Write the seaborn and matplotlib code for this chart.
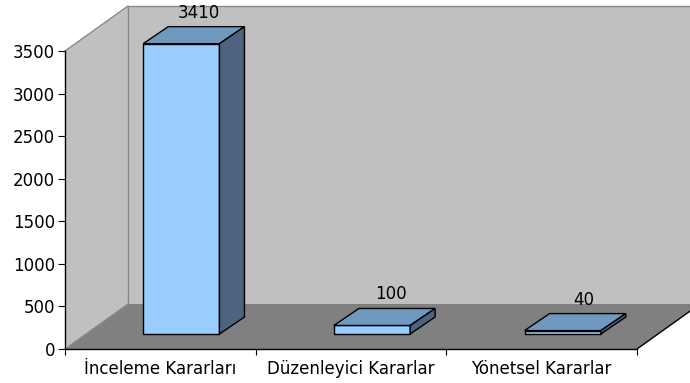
import matplotlib
matplotlib.use("Agg")
import matplotlib.pyplot as plt
from matplotlib.patches import Polygon
from matplotlib.lines import Line2D
import seaborn as sns
import pandas as pd

# Data
categories = ["İnceleme Kararları", "Düzenleyici Kararlar", "Yönetsel Kararlar"]
values = [3410, 100, 40]
y_ticks = [0, 500, 1000, 1500, 2000, 2500, 3000, 3500]

sns.set_style("white")
plt.rcParams["font.family"] = ["DejaVu Sans"]
plt.rcParams["text.color"] = "black"
plt.rcParams["xtick.color"] = "black"
plt.rcParams["ytick.color"] = "black"
plt.rcParams["xtick.labelcolor"] = "black"
plt.rcParams["ytick.labelcolor"] = "black"

FRONT = "#99CCFF"
TOP = "#7099C0"
SIDE = "#4D6380"
WALL = "#C0C0C0"
FLOOR = "#808080"
WALL_EDGE = "#8A8A8A"

W, H = 690, 383
fig = plt.figure(figsize=(W / 100, H / 100), dpi=100, facecolor="white")
# Front plane of the 3D box, in pixels
left_px, right_px, base_px, top_px = 65, 637, 349, 51
ax = fig.add_axes([left_px / W, (H - base_px) / H,
                   (right_px - left_px) / W, (base_px - top_px) / H])
ax.patch.set_visible(False)

df = pd.DataFrame({"cat": categories, "val": values})
sns.barplot(data=df, x="cat", y="val", ax=ax, width=0.4, color=FRONT,
            saturation=1, edgecolor="black", linewidth=1.0, zorder=3)
bars = list(ax.patches)

ax.set_xlim(-0.5, len(categories) - 0.5)
ax.set_ylim(0, y_ticks[-1])
ax.set_xlabel("")
ax.set_ylabel("")


def px_to_data(dx, dy):
    inv = ax.transData.inverted()
    p0 = inv.transform((0, 0))
    p1 = inv.transform((dx, dy))
    return p1[0] - p0[0], p1[1] - p0[1]


# Depth of the box and of the bars (screen offsets)
DX, DY = px_to_data(63, 45)       # full depth of the walls
FX, FY = px_to_data(21, 15)       # bar front face set back from front plane
BX, BY = px_to_data(25, 17)       # bar depth

x0, x1 = ax.get_xlim()
ymax = y_ticks[-1]

floor = Polygon([(x0, 0), (x1, 0), (x1 + DX, DY), (x0 + DX, DY)],
                closed=True, facecolor=FLOOR, edgecolor="none",
                clip_on=False, zorder=0)
back = Polygon([(x0 + DX, DY), (x1 + DX, DY), (x1 + DX, ymax + DY), (x0 + DX, ymax + DY)],
               closed=True, facecolor=WALL, edgecolor="none", clip_on=False, zorder=0)
side_wall = Polygon([(x0, 0), (x0, ymax), (x0 + DX, ymax + DY), (x0 + DX, DY)],
                    closed=True, facecolor=WALL, edgecolor="none", clip_on=False, zorder=0)
for p in (back, side_wall, floor):
    ax.add_patch(p)

# Wall outlines
for xs, ys, c in [
    ([x0, x0 + DX], [ymax, ymax + DY], WALL_EDGE),
    ([x0 + DX, x1 + DX], [ymax + DY, ymax + DY], WALL_EDGE),
    ([x0 + DX, x0 + DX], [DY, ymax + DY], WALL_EDGE),
    ([x0, x0 + DX], [0, DY], WALL_EDGE),
    ([x1, x1 + DX], [0, DY], "black"),
]:
    ax.add_line(Line2D(xs, ys, color=c, lw=1.0, clip_on=False, zorder=1))

# Bars: shift front face back, then add top and side faces
for b in bars:
    bx, bw, bh = b.get_x(), b.get_width(), b.get_height()
    b.set_x(bx + FX)
    b.set_y(FY)
    b.set_clip_on(False)
    fx0, fx1, fy0, fy1 = bx + FX, bx + bw + FX, FY, bh + FY
    top = Polygon([(fx0, fy1), (fx1, fy1), (fx1 + BX, fy1 + BY), (fx0 + BX, fy1 + BY)],
                  closed=True, facecolor=TOP, edgecolor="black", lw=1.0,
                  clip_on=False, zorder=3)
    side = Polygon([(fx1, fy0), (fx1, fy1), (fx1 + BX, fy1 + BY), (fx1 + BX, fy0 + BY)],
                   closed=True, facecolor=SIDE, edgecolor="black", lw=1.0,
                   clip_on=False, zorder=3)
    ax.add_patch(top)
    ax.add_patch(side)

# Value labels
for i, v in enumerate(values):
    ax.annotate(f"{v}", xy=(i, v), xytext=(38 + 2 * i, 46), textcoords="offset pixels",
                ha="center", va="center", fontsize=12, color="black",
                annotation_clip=False, zorder=5)

# Axes styling
for s in ("top", "right"):
    ax.spines[s].set_visible(False)
for s in ("left", "bottom"):
    ax.spines[s].set_color("black")
    ax.spines[s].set_linewidth(1.0)
    ax.spines[s].set_zorder(4)

ax.set_yticks(y_ticks)
ax.set_yticklabels([str(t) for t in y_ticks])
ax.tick_params(axis="y", direction="out", length=5, width=0.8, colors="black",
               pad=2, labelsize=12, left=True)

ax.set_xticks(range(len(categories)))
ax.set_xticklabels(categories)
ax.set_xticks([k - 0.5 for k in range(len(categories) + 1)], minor=True)
ax.tick_params(axis="x", which="major", length=0, pad=8, labelsize=12,
               labelcolor="black")
ax.tick_params(axis="x", which="minor", direction="out", length=4, width=0.8,
               color="black", bottom=True)
ax.grid(False)

fig.savefig("out.png", dpi=100, facecolor="white")
